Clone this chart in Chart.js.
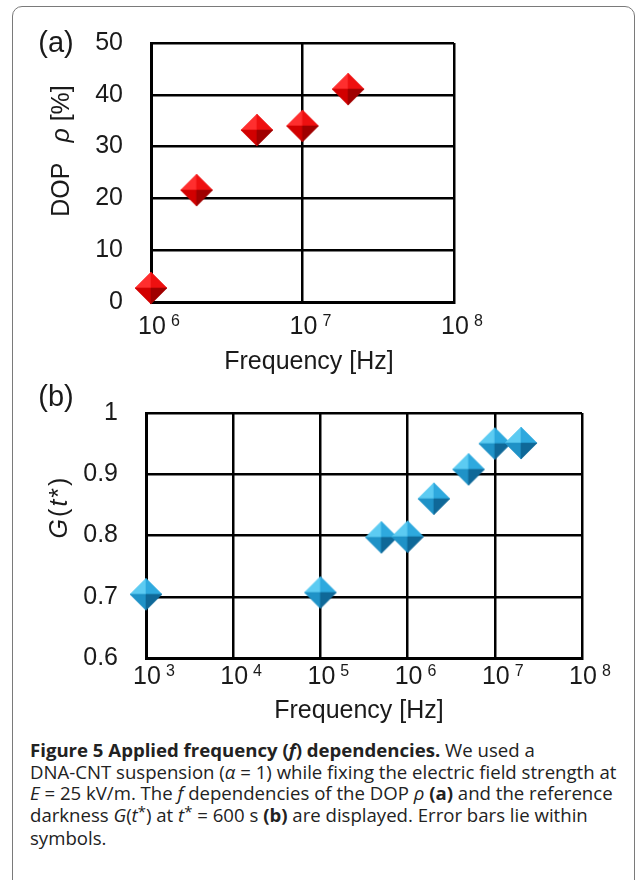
<!DOCTYPE html>
<html>
<head>
<meta charset="utf-8">
<script src="https://cdn.jsdelivr.net/npm/chart.js@4"></script>
<style>
  body { margin: 0; background: #fff; width: 637px; height: 880px; overflow: hidden; position: relative; font-family: "Liberation Sans", Arial, sans-serif; color: #1a1a1a; }
  #frame { position: absolute; left: 12px; top: 6px; width: 621px; height: 920px; border: 1.5px solid #7a7a7a; border-radius: 10px; }
  canvas { position: absolute; left: 0; }
  .lbl { position: absolute; white-space: nowrap; transform: translate(-50%, -50%); }
  .rot { transform: translate(-50%, -50%) rotate(-90deg); }
  .panel { font-size: 29px; }
  .title { font-size: 25px; }
  #caption { position: absolute; left: 30px; top: 739px; font-family: "Open Sans", "Noto Sans", sans-serif; font-size: 18.6px; line-height: 21.5px; white-space: nowrap; color: #222; letter-spacing: 0; }
  #caption b { font-weight: 700; }
  .sup { position: relative; top: -0.3em; font-size: 0.8em; }
</style>
</head>
<body>
<div id="frame"></div>
<canvas id="chartA" width="637" height="345" style="top:0"></canvas>
<canvas id="chartB" width="637" height="345" style="top:370px"></canvas>

<div class="lbl panel" style="left:56px; top:42px">(a)</div>
<div class="lbl panel" style="left:56px; top:396px">(b)</div>
<div class="lbl title rot" style="left:60px; top:151px">DOP<span style="display:inline-block; width:20px"></span><i>ρ</i> [%]</div>
<div class="lbl title rot" style="left:58px; top:507px; letter-spacing:2px"><i>G</i>(<i>t</i>*)</div>
<div class="lbl title" style="left:309px; top:360px">Frequency [Hz]</div>
<div class="lbl title" style="left:359px; top:709px">Frequency [Hz]</div>

<div id="caption"><b>Figure 5 Applied frequency (<i>f</i>) dependencies.</b> We used a<br>DNA-CNT suspension (<i>α</i> = 1) while fixing the electric field strength at<br><i>E</i> = 25 kV/m. The <i>f</i> dependencies of the DOP <i>ρ</i> <b>(a)</b> and the reference<br>darkness <i>G</i>(<i>t</i><span class="sup">*</span>) at <i>t</i><span class="sup">*</span> = 600 s <b>(b)</b> are displayed. Error bars lie within<br>symbols.</div>

<script>
// (a) DOP vs frequency
const freqA = [1e6, 2e6, 5e6, 1e7, 2e7];
const dopA = [2.7, 21.6, 33.2, 34.0, 41.1];
const xTicksA = [1e6, 1e7, 1e8];
const yTicksA = [0, 10, 20, 30, 40, 50];

// (b) G(t*) vs frequency
const freqB = [1e3, 1e5, 5e5, 1e6, 2e6, 5e6, 1e7, 2e7];
const gB = [0.704, 0.707, 0.797, 0.798, 0.86, 0.908, 0.95, 0.951];
const xTicksB = [1e3, 1e4, 1e5, 1e6, 1e7, 1e8];
const yTicksB = [0.6, 0.7, 0.8, 0.9, 1];

// pyramid-shaded diamond marker
function makeDiamond(colors, r) {
    const c = document.createElement('canvas');
    const s = 2 * r + 2;
    c.width = c.height = s;
    const g = c.getContext('2d');
    const m = s / 2;
    const faces = [
        [[m, m - r], [m - r, m]],
        [[m, m - r], [m + r, m]],
        [[m - r, m], [m, m + r]],
        [[m + r, m], [m, m + r]]
    ];
    faces.forEach((f, i) => {
        g.beginPath();
        g.moveTo(m, m);
        g.lineTo(f[0][0], f[0][1]);
        g.lineTo(f[1][0], f[1][1]);
        g.closePath();
        g.fillStyle = colors[i];
        g.fill();
        g.strokeStyle = colors[i];
        g.lineWidth = 0.6;
        g.stroke();
    });
    return c;
}

const redMark = makeDiamond(['#ff2e2e', '#ee1010', '#d20000', '#a00000'], 16);
const blueMark = makeDiamond(['#5ccbf2', '#2ea9de', '#1f92c7', '#0f6898'], 16);

// x tick labels as 10 with superscript exponent
function powerLabels(offset) {
    return {
        id: 'powerLabels',
        afterDraw(chart) {
            const ctx = chart.ctx;
            const sc = chart.scales.x;
            const base = chart.chartArea.bottom + offset;
            ctx.save();
            ctx.fillStyle = '#1a1a1a';
            sc.ticks.forEach(t => {
                const px = sc.getPixelForValue(t.value);
                const exp = Math.round(Math.log10(t.value));
                ctx.font = '25px "Liberation Sans", Arial, sans-serif';
                ctx.textAlign = 'center';
                ctx.textBaseline = 'alphabetic';
                ctx.fillText('10', px + 1, base);
                const w = ctx.measureText('10').width;
                ctx.font = '16px "Liberation Sans", Arial, sans-serif';
                ctx.textAlign = 'left';
                ctx.fillText(String(exp), px + 1 + w / 2 + 5, base - 8);
            });
            ctx.restore();
        }
    };
}

function makeChart(id, xs, ys, xTicks, yTicks, mark, box, labelOffset) {
    const ctx = document.getElementById(id).getContext('2d');
    return new Chart(ctx, {
        type: 'scatter',
        data: {
            datasets: [{
                data: xs.map((x, i) => ({ x: x, y: ys[i] })),
                pointStyle: mark,
                pointRadius: 16,
                pointHoverRadius: 16,
                clip: false
            }]
        },
        options: {
            responsive: false,
            animation: false,
            devicePixelRatio: 1,
            layout: { padding: { left: 0, right: box.right, top: box.top, bottom: 0 } },
            plugins: { legend: { display: false }, tooltip: { enabled: false } },
            scales: {
                x: {
                    type: 'logarithmic',
                    min: xTicks[0],
                    max: xTicks[xTicks.length - 1],
                    afterBuildTicks: s => { s.ticks = xTicks.map(v => ({ value: v })); },
                    afterFit: s => { s.height = box.xh; },
                    ticks: { display: false },
                    grid: { color: '#000', lineWidth: 2.5, drawTicks: false },
                    border: { color: '#000', width: 3 }
                },
                y: {
                    min: yTicks[0],
                    max: yTicks[yTicks.length - 1],
                    afterBuildTicks: s => { s.ticks = yTicks.map(v => ({ value: v })); },
                    afterFit: s => { s.width = box.left; },
                    ticks: {
                        padding: 28,
                        color: '#1a1a1a',
                        font: { family: '"Liberation Sans", Arial, sans-serif', size: 25 },
                        callback: v => String(v)
                    },
                    grid: { color: '#000', lineWidth: 2.5, drawTicks: false },
                    border: { color: '#000', width: 3 }
                }
            }
        },
        plugins: [powerLabels(labelOffset)]
    });
}

makeChart('chartA', freqA, dopA, xTicksA, yTicksA, redMark,
    { left: 151, right: 183, top: 42, xh: 43 }, 32);
makeChart('chartB', freqB, gB, xTicksB, yTicksB, blueMark,
    { left: 146, right: 55, top: 36, xh: 57 }, 26);
</script>
</body>
</html>
